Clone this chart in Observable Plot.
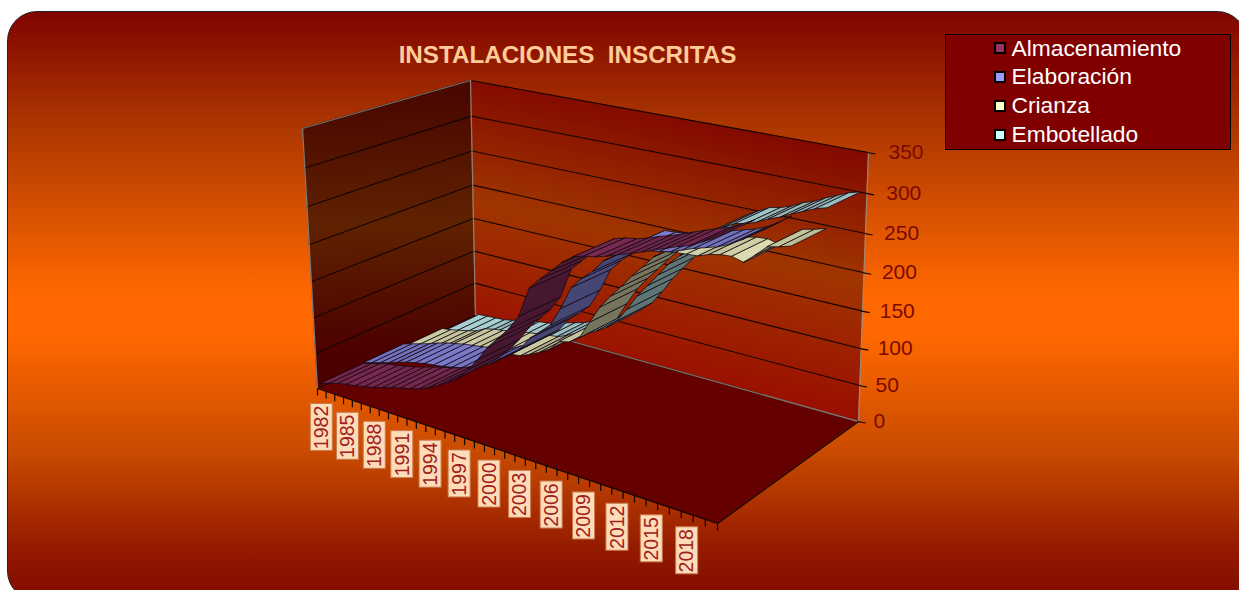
<!DOCTYPE html>
<html><head><meta charset="utf-8">
<script src="https://cdn.jsdelivr.net/npm/d3@7"></script>
<script src="https://cdn.jsdelivr.net/npm/@observablehq/plot@0.6"></script>
<style>
html,body{margin:0;padding:0;background:#fff;overflow:hidden;width:1239px;height:590px}
#card{position:absolute;left:7px;top:11px;width:1240px;height:590px;border-radius:30px;box-sizing:border-box;border:1px solid #222;
background:linear-gradient(180deg,#800400 0%,#a93400 18%,#dc5400 36%,#ff6800 48%,#ff6800 55%,#c84a00 75%,#921800 92%,#800a00 100%)}
#chart{position:absolute;left:0;top:0}
#chart svg{background:transparent;display:block}
</style></head><body>
<div id="card"></div><div id="chart"></div>
<script>
const years=[1982,1983,1984,1985,1986,1987,1988,1989,1990,1991,1992,1993,1994,1995,1996,1997,1998,1999,2000,2001,2002,2003,2004,2005,2006,2007,2008,2009,2010,2011,2012,2013,2014,2015,2016,2017,2018,2019,2020];
const almacenamiento=[9,13,17,20,22,25,28,32,36,40,43,47,53,60,68,78,93,110,130,145,160,180,218,232,245,258,268,272,274,278,283,287,292,297,302,307,311,318,325];
const elaboracion=[10,14,18,22,27,31,34,37,39,41,44,47,50,58,65,75,85,97,115,127,140,165,195,210,222,238,248,260,261,263,265,268,273,278,282,286,292,300,310];
const crianza=[6,8,11,14,18,25,28,30,33,35,38,40,42,44,50,57,65,80,83,93,118,142,160,176,193,208,224,234,236,237,238,243,246,247,243,255,268,271,275];
const embotellado=[1,2,3,4,7,12,14,16,18,21,26,30,34,40,46,53,60,68,77,90,110,132,150,168,186,200,212,230,242,250,257,260,265,272,277,284,290,296,300];
const seriesNames=["Almacenamiento","Elaboración","Crianza","Embotellado"];
const seriesColors=["#993366","#9999ff","#ffffcc","#ccffff"];
const seriesValues=[almacenamiento,elaboracion,crianza,embotellado];
const valueTicks=[0,50,100,150,200,250,300,350];
const yearLabels=[1982,1985,1988,1991,1994,1997,2000,2003,2006,2009,2012,2015,2018];

// 3D box as seen in the picture
const floorQuad=[[317,388],[717,523],[858,421],[475,314]];
const topQuad=[[302,128],[721,216],[868,152],[470,80]];
function homography(q){
  const [[x0,y0],[x1,y1],[x2,y2],[x3,y3]]=q;
  const dx1=x1-x2,dx2=x3-x2,sx=x0-x1+x2-x3,dy1=y1-y2,dy2=y3-y2,sy=y0-y1+y2-y3;
  const det=dx1*dy2-dx2*dy1;
  const g=(sx*dy2-dx2*sy)/det,h=(dx1*sy-sx*dy1)/det;
  const a=x1-x0+g*x1,b=x3-x0+h*x3,d=y1-y0+g*y1,e=y3-y0+h*y3;
  return (t,s)=>{const w=g*t+h*s+1;return [(a*t+b*s+x0)/w,(d*t+e*s+y0)/w];};
}
const floorH=homography(floorQuad),topH=homography(topQuad);
const maxV=350;
function project(t,s,v){
  const u=v/maxV,g=.928*u/(1-.072*u);
  const f=floorH(t,s),p=topH(t,s);
  return [f[0]+g*(p[0]-f[0]),f[1]+g*(p[1]-f[1])];
}
const N=years.length;
const tOf=k=>(k+.5)/N;
function band(rows,key,extra){
  return rows.map(([a,b])=>{const p=project(...a),q=project(...b);
    return {key,x1:p[0],y1:p[1],x2:q[0],y2:q[1],...extra};});
}
function shade(hex,f){const c=d3.rgb(hex);return d3.rgb(c.r*f,c.g*f,c.b*f).formatHex();}
const ribbons=[];
for(let i=3;i>=0;i--){
  const vs=seriesValues[i];
  for(let k=0;k<N-1;k++){
    const dv=vs[k+1]-vs[k];
    const f=dv>=0?.84-Math.min(dv,16)/16*.38:Math.min(.95,.84-dv/20*.1);
    const col=shade(seriesColors[i],f);
    ribbons.push(...band([
      [[tOf(k),i/4,vs[k]],[tOf(k),(i+1)/4,vs[k]]],
      [[tOf(k+1),i/4,vs[k+1]],[tOf(k+1),(i+1)/4,vs[k+1]]]
    ],`${i}-${k}`,{color:col}));
  }
}
const sideWall=band([[[0,0,0],[0,0,maxV]],[[0,1,0],[0,1,maxV]]],"side");
const backWall=band([[[0,1,0],[0,1,maxV]],[[1,1,0],[1,1,maxV]]],"back");
const floorPlane=band([[[0,0,0],[0,1,0]],[[1,0,0],[1,1,0]]],"floor");
const pt=(t,s,v,extra)=>{const p=project(t,s,v);return {x:p[0],y:p[1],...extra};};
const grid=valueTicks.flatMap(v=>[pt(0,0,v,{v}),pt(0,1,v,{v}),pt(1,1,v,{v})]);
const edges=[[[0,0,0],[0,0,maxV],[0,1,maxV]],[[1,1,maxV],[1,1,0]],[[0,1,0],[0,1,maxV]],[[0,1,0],[1,1,0]]]
  .flatMap((e,i)=>e.map(c=>pt(...c,{i})));
const yearTicks=d3.range(N+1).map(k=>{const p=project(k/N,0,0);return {x1:p[0],y1:p[1],x2:p[0],y2:p[1]+7};});
const valueTickMarks=valueTicks.map(v=>{const p=project(1,1,v);return {x1:p[0]-1,y1:p[1],x2:p[0]+7,y2:p[1]+1.5,lx:p[0]+15+5*v/maxV,v};});
const yearBoxes=yearLabels.map(y=>{const p=project(tOf(y-1982),0,0);return {y:y,cx:p[0],top:p[1]+14};});

const defs=()=>{
  const s=d3.create("svg:defs");
  const add=(id,x1,y1,x2,y2,st)=>{const g=s.append("linearGradient").attr("id",id).attr("gradientUnits","userSpaceOnUse")
    .attr("x1",x1).attr("y1",y1).attr("x2",x2).attr("y2",y2);
    st.forEach(([o,c])=>g.append("stop").attr("offset",o).attr("stop-color",c));};
  add("backG",690,105,635,375,[[0,"#7f0500"],[.5,"#a03500"],[1,"#9a0e00"]]);
  add("sideG",388,100,395,350,[[0,"#4a0800"],[.5,"#5f2200"],[1,"#4c0000"]]);
  return s.node();
};
const lbl={fontFamily:"'Liberation Sans',Arial,sans-serif"};
const plot=Plot.plot({
  width:1239,height:590,margin:0,
  x:{domain:[0,1239],range:[0,1239],axis:null},
  y:{domain:[0,590],range:[0,590],axis:null},
  style:{background:"transparent",overflow:"visible"},
  marks:[
    defs,
    Plot.area(backWall,{x1:"x1",y1:"y1",x2:"x2",y2:"y2",fill:"url(#backG)"}),
    Plot.area(sideWall,{x1:"x1",y1:"y1",x2:"x2",y2:"y2",fill:"url(#sideG)"}),
    Plot.area(floorPlane,{x1:"x1",y1:"y1",x2:"x2",y2:"y2",fill:"#640000"}),
    Plot.line(grid,{x:"x",y:"y",z:"v",stroke:"#140500",strokeWidth:1.1,curve:"linear"}),
    Plot.line(edges,{x:"x",y:"y",z:"i",stroke:"#90908c",strokeWidth:1.3,strokeOpacity:.8}),
    Plot.area(ribbons,{x1:"x1",y1:"y1",x2:"x2",y2:"y2",z:"key",fill:"color",stroke:"#140a14",strokeWidth:.8,strokeLinejoin:"round"}),
    Plot.link([{a:project(0,0,0),b:project(1,0,0)},{a:project(1,0,0),b:project(1,1,0)}],{x1:d=>d.a[0],y1:d=>d.a[1],x2:d=>d.b[0],y2:d=>d.b[1],stroke:"#0c0200",strokeWidth:1.2}),
    Plot.link(yearTicks,{x1:"x1",y1:"y1",x2:"x2",y2:"y2",stroke:"#0c0200",strokeWidth:1.2}),
    Plot.link(valueTickMarks,{x1:"x1",y1:"y1",x2:"x2",y2:"y2",stroke:"#0c0200",strokeWidth:1.2}),
    Plot.text(valueTickMarks,{x:"lx",y:"y1",text:d=>String(d.v),textAnchor:"start",fontSize:21,fill:"#7a0a00",...lbl}),
    Plot.rect(yearBoxes,{x1:d=>d.cx-11,x2:d=>d.cx+11,y1:d=>d.top,y2:d=>d.top+47,fill:"#ffdcb8",stroke:"#c87a50",strokeWidth:1}),
    Plot.text(yearBoxes,{x:"cx",y:d=>d.top+23.5,text:d=>String(d.y),rotate:-90,fontSize:19.5,fill:"#a02020",...lbl}),
    Plot.text(["INSTALACIONES  INSCRITAS"],{x:()=>567,y:()=>55,text:d=>d,fontSize:24.2,fontWeight:"bold",fill:"#ffcc99",...lbl,style:{whiteSpace:"pre"}}),
    Plot.rect([0],{x1:()=>945.5,x2:()=>1230.5,y1:()=>34.5,y2:()=>149.5,fill:"#800000",stroke:"#000",strokeWidth:1}),
    Plot.rect(seriesNames,{x1:()=>995,x2:()=>1005,y1:(d,i)=>43+i*29,y2:(d,i)=>53+i*29,fill:(d,i)=>seriesColors[i],stroke:"#000",strokeWidth:2}),
    Plot.text(seriesNames,{x:()=>1011,y:(d,i)=>48+i*28.7,text:d=>d,textAnchor:"start",fontSize:22.8,fill:"#fff",...lbl})
  ]
});
document.getElementById("chart").append(plot);
</script></body></html>
